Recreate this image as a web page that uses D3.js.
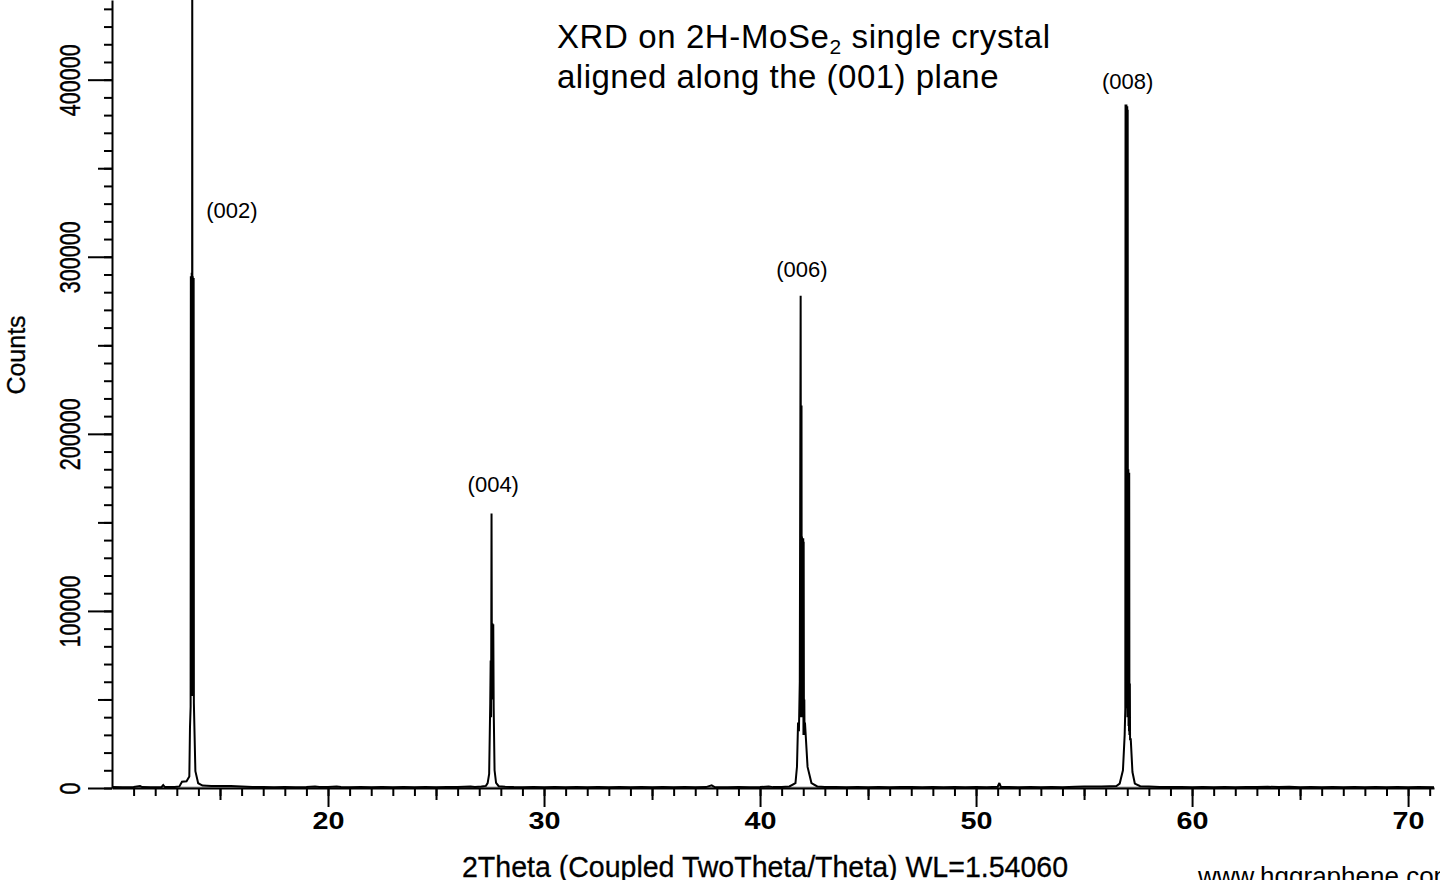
<!DOCTYPE html>
<html>
<head>
<meta charset="utf-8">
<script src="https://cdn.jsdelivr.net/npm/d3@7"></script>
<style>
  html, body { margin: 0; padding: 0; background: #fff; }
  svg { display: block; }
  text { font-family: "Liberation Sans", Arial, sans-serif; fill: #000; }
</style>
</head>
<body>
<svg id="chart" width="1440" height="880"></svg>
<script>
// ---- data: [2Theta, Counts] ----
const scan = [
  [10.0, 500], [10.5, 450], [11.0, 550], [11.3, 1100], [11.4, 500], [11.8, 450],
  [12.3, 600], [12.37, 1700], [12.45, 500], [12.9, 600],
  // (002)
  [13.12, 900], [13.24, 3500], [13.45, 3800], [13.58, 6500], [13.61, 34000], [13.64, 46000],
  [13.65, 289000], [13.66, 60000], [13.67, 287000], [13.68, 55000], [13.69, 291000],
  [13.70, 52000], [13.71, 288000], [13.715, 480000], [13.72, 290000], [13.73, 60000],
  [13.74, 289000], [13.75, 55000], [13.76, 286000], [13.77, 60000], [13.78, 288000],
  [13.79, 48000], [13.86, 9500], [13.99, 2700], [14.19, 1400],
  [14.6, 1200], [15.0, 1200], [15.5, 1100], [16.0, 800], [16.5, 600], [17.0, 500],
  [17.5, 450], [18.0, 550], [18.5, 450], [19.0, 500], [19.4, 800], [19.6, 500],
  [20.0, 600], [20.4, 800], [20.6, 500], [21.0, 450], [21.5, 500], [22.0, 400],
  [22.5, 500], [23.0, 450], [23.5, 500], [24.0, 400], [24.5, 550], [25.0, 450],
  [25.5, 500], [26.0, 600], [26.6, 900], [26.8, 600], [27.1, 800],
  // (004)
  [27.31, 1200], [27.39, 2800], [27.46, 8000], [27.51, 48000], [27.53, 72000],
  [27.55, 40000], [27.57, 155000], [27.59, 50000], [27.61, 93000], [27.62, 55000],
  [27.63, 92000], [27.64, 58000], [27.65, 92500], [27.67, 45000], [27.71, 10000],
  [27.78, 2900], [27.90, 1000],
  [28.2, 700], [28.6, 500], [29.0, 450], [29.5, 550], [30.0, 450], [30.5, 500],
  [31.0, 400], [31.5, 550], [32.0, 450], [32.5, 500], [33.0, 450], [33.5, 500],
  [34.0, 400], [34.5, 550], [35.0, 450], [35.5, 500], [36.0, 450], [36.5, 550],
  [37.0, 450], [37.5, 500], [37.76, 1500], [37.9, 500], [38.5, 450], [39.0, 550],
  [39.5, 450], [40.0, 500], [40.4, 900], [40.6, 500], [41.0, 600],
  // (006)
  [41.36, 900], [41.64, 2800], [41.71, 12000], [41.76, 37000], [41.80, 32000],
  [41.84, 60000], [41.88, 278000], [41.90, 40000], [41.92, 216000], [41.93, 50000],
  [41.94, 142000], [41.95, 45000], [41.96, 141000], [41.97, 51000], [41.98, 140000],
  [41.99, 40000], [42.00, 141000], [42.01, 30000], [42.02, 139000], [42.03, 51000],
  [42.04, 30000], [42.05, 50000], [42.06, 30000], [42.08, 37000],
  [42.20, 11900], [42.38, 2800], [42.65, 900],
  [43.0, 600], [43.5, 500], [44.0, 450], [44.5, 550], [45.0, 450], [45.5, 500],
  [46.0, 450], [46.5, 550], [47.0, 600], [47.5, 450], [48.0, 500], [48.5, 450],
  [49.0, 550], [49.5, 450], [50.0, 500], [50.5, 450], [51.0, 700], [51.08, 2800],
  [51.15, 600], [51.5, 500], [52.0, 450], [52.5, 550], [53.0, 450], [53.5, 500],
  [54.0, 450], [54.6, 700], [55.0, 900], [55.4, 800], [55.8, 900], [56.2, 1000],
  [56.5, 1100],
  // (008)
  [56.65, 2500], [56.80, 10000], [56.88, 30000], [56.91, 45000],
  [56.92, 386000], [56.93, 60000], [56.94, 385000], [56.95, 50000], [56.96, 386000],
  [56.97, 60000], [56.98, 384000], [56.99, 45000], [57.00, 385000], [57.01, 40000],
  [57.02, 383000], [57.03, 40000], [57.05, 180000], [57.06, 35000], [57.07, 178000],
  [57.08, 32000], [57.09, 178000], [57.10, 30000], [57.12, 59000], [57.13, 27000],
  [57.16, 28000], [57.24, 9000], [57.35, 2500], [57.6, 1000],
  [58.0, 800], [58.5, 600], [59.0, 500], [59.5, 550], [60.0, 450], [60.5, 500],
  [61.0, 450], [61.5, 500], [62.0, 450], [62.5, 550], [63.0, 500], [63.5, 700],
  [64.0, 500], [64.5, 650], [65.0, 450], [65.5, 500], [66.0, 450], [66.5, 500],
  [67.0, 450], [67.5, 500], [68.0, 450], [68.5, 500], [69.0, 400], [69.5, 500],
  [70.0, 450], [70.5, 500], [71.2, 450]
];
// background (gray) curve
const background = [[10.0, 250], [71.2, 250]];

// axis ticks
const xMajorTicks = [20, 30, 40, 50, 60, 70];
const xMediumTicks = [15, 25, 35, 45, 55, 65];
const xMinorTicks = d3.range(11, 72, 1);
const yMajorTicks = [0, 100000, 200000, 300000, 400000];
const yMediumTicks = [50000, 150000, 250000, 350000];
const yMinorTicks = d3.range(0, 440001, 10000);

// peak labels
const peakLabels = ["(002)", "(004)", "(006)", "(008)"];
const peakLabelTheta = [15.55, 27.65, 41.94, 57.02];
const peakLabelCounts = [322000, 167000, 288500, 394500];

const titleLine1 = ["XRD on 2H-MoSe", "2", " single crystal"];
const titleLine2 = "aligned along the (001) plane";
const xTitle = "2Theta (Coupled TwoTheta/Theta) WL=1.54060";
const yTitle = "Counts";
const watermark = "www.hqgraphene.com";

// ---- drawing ----
const svg = d3.select("#chart");
const x = d3.scaleLinear().domain([10, 71.2]).range([112, 1434]);
const y = d3.scaleLinear().domain([0, 445000]).range([788, 0]);

const line = d3.line().x(d => x(d[0])).y(d => y(d[1]));

svg.append("path").datum(background).attr("d", line)
  .attr("fill", "none").attr("stroke", "#a8a8a8").attr("stroke-width", 2);
svg.append("path").datum(scan).attr("d", line)
  .attr("fill", "none").attr("stroke", "#000").attr("stroke-width", 2)
  .attr("stroke-linejoin", "miter").attr("stroke-miterlimit", 2);

function styleAxis(g) {
  g.attr("font-family", null).attr("font-size", null);
  g.selectAll("line").attr("stroke", "#000").attr("stroke-width", 2);
  g.selectAll("path.domain").attr("stroke", "#000").attr("stroke-width", 2);
}

// X axis
const gx = svg.append("g").attr("transform", "translate(0,788)");
gx.append("g").call(d3.axisBottom(x).tickValues(xMinorTicks).tickSize(8).tickSizeOuter(0).tickFormat(""))
  .call(styleAxis).call(g => g.select(".domain").remove());
gx.append("g").call(d3.axisBottom(x).tickValues(xMediumTicks).tickSize(12).tickSizeOuter(0).tickFormat(""))
  .call(styleAxis).call(g => g.select(".domain").remove());
const gxMajor = gx.append("g").call(d3.axisBottom(x).tickValues(xMajorTicks).tickSize(19).tickSizeOuter(0).tickFormat(d3.format("d")))
  .call(styleAxis);
gxMajor.selectAll(".tick text")
  .attr("y", 41).attr("dy", 0)
  .attr("font-size", 23).attr("font-weight", "bold")
  .attr("textLength", 32).attr("lengthAdjust", "spacingAndGlyphs");

// Y axis
const gy = svg.append("g").attr("transform", "translate(112,0)");
gy.append("g").call(d3.axisLeft(y).tickValues(yMinorTicks).tickSize(8).tickSizeOuter(0).tickFormat(""))
  .call(styleAxis).call(g => g.select(".domain").remove());
gy.append("g").call(d3.axisLeft(y).tickValues(yMediumTicks).tickSize(14).tickSizeOuter(0).tickFormat(""))
  .call(styleAxis).call(g => g.select(".domain").remove());
const gyMajor = gy.append("g").call(d3.axisLeft(y).tickValues(yMajorTicks).tickSize(24).tickSizeOuter(0).tickFormat(d3.format("d")))
  .call(styleAxis);
gyMajor.selectAll(".tick text")
  .attr("x", 0).attr("y", 0).attr("dy", 0)
  .attr("transform", "translate(-32,0) rotate(-90)")
  .attr("text-anchor", "middle")
  .attr("font-size", 29)
  .attr("stroke", "#000").attr("stroke-width", 0.4)
  .attr("textLength", d => String(d).length * 12)
  .attr("lengthAdjust", "spacingAndGlyphs");

// Peak labels
svg.append("g").selectAll("text").data(peakLabels).join("text")
  .attr("x", (d, i) => x(peakLabelTheta[i]))
  .attr("y", (d, i) => y(peakLabelCounts[i]))
  .attr("text-anchor", "middle").attr("font-size", 22)
  .text(d => d);

// Title
const t1 = svg.append("text").attr("x", 557).attr("y", 48)
  .attr("font-size", 33).attr("letter-spacing", 0.6);
t1.append("tspan").text(titleLine1[0]);
t1.append("tspan").attr("font-size", 21).attr("dy", 6).text(titleLine1[1]);
t1.append("tspan").attr("dy", -6).text(titleLine1[2]);
svg.append("text").attr("x", 557).attr("y", 88)
  .attr("font-size", 33).attr("letter-spacing", 0.5).text(titleLine2);

// Axis titles
svg.append("text").attr("x", 765).attr("y", 877)
  .attr("text-anchor", "middle").attr("font-size", 30)
  .attr("stroke", "#000").attr("stroke-width", 0.3)
  .attr("textLength", 606).attr("lengthAdjust", "spacingAndGlyphs")
  .text(xTitle);
svg.append("text").attr("transform", "translate(25,355) rotate(-90)")
  .attr("text-anchor", "middle").attr("font-size", 25)
  .attr("stroke", "#000").attr("stroke-width", 0.3)
  .text(yTitle);

// Watermark
svg.append("text").attr("x", 1198).attr("y", 885)
  .attr("font-size", 26).text(watermark);
</script>
</body>
</html>
